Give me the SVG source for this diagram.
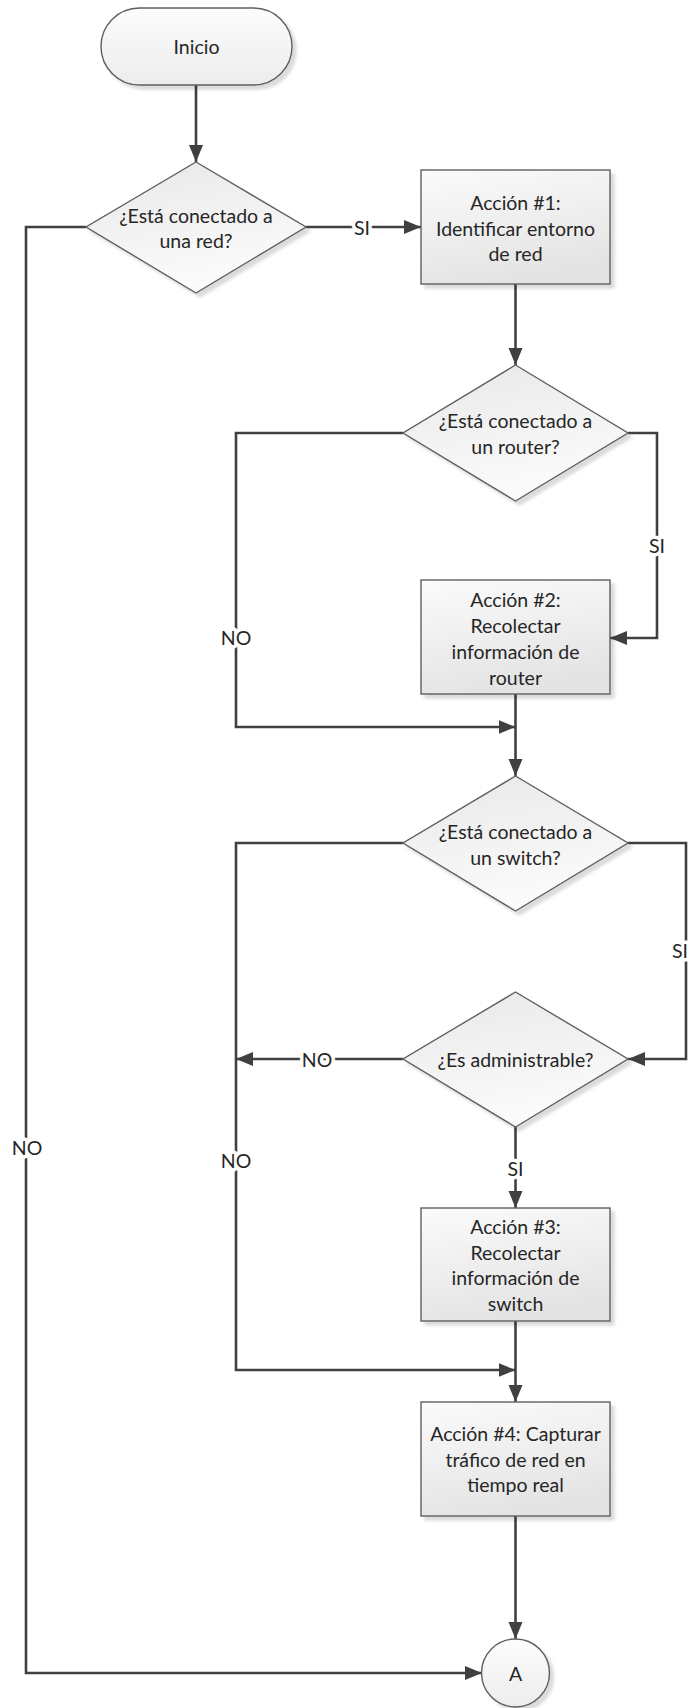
<svg xmlns="http://www.w3.org/2000/svg" width="690" height="1708" viewBox="0 0 690 1708">
  <defs>
    <linearGradient id="gBox" x1="0" y1="0" x2="0.3" y2="1">
      <stop offset="0" stop-color="#fbfbfb"/>
      <stop offset="1" stop-color="#e4e4e4"/>
    </linearGradient>
    <linearGradient id="gDia" x1="0" y1="0" x2="0.3" y2="1">
      <stop offset="0" stop-color="#e8e8e8"/>
      <stop offset="1" stop-color="#fbfbfb"/>
    </linearGradient>
    <linearGradient id="gTerm" x1="0" y1="0" x2="0" y2="1">
      <stop offset="0" stop-color="#fdfdfd"/>
      <stop offset="1" stop-color="#ececec"/>
    </linearGradient>
    <filter id="sh" x="-10%" y="-10%" width="130%" height="130%">
      <feDropShadow dx="4" dy="4" stdDeviation="1.5" flood-color="#000" flood-opacity="0.14"/>
    </filter>
    <marker id="arr" markerUnits="userSpaceOnUse" markerWidth="18" markerHeight="16" refX="17" refY="8" orient="auto">
      <path d="M0,1 L17,8 L0,15 Z" fill="#404040"/>
    </marker>
  </defs>
  <style>
    .shape { stroke: #5f5f5f; stroke-width: 1.4; filter: url(#sh); }
    .box { fill: url(#gBox); }
    .dia { fill: url(#gDia); }
    .term { fill: url(#gTerm); }
    .t { font-family: Lato, "Open Sans", sans-serif; font-size: 19.5px; fill: #262626; text-anchor: middle; dominant-baseline: central; }
    .conn { fill: none; stroke: #404040; stroke-width: 2.6; }
    .lbl { font-family: Lato, "Open Sans", sans-serif; font-size: 19.5px; fill: #262626; text-anchor: middle; dominant-baseline: central; stroke: #ffffff; stroke-width: 7; paint-order: stroke; stroke-linejoin: round; }
  </style>

  <g id="connectors">
    <path class="conn" d="M196,85 V162" marker-end="url(#arr)"/>
    <path class="conn" d="M306,227 H421" marker-end="url(#arr)"/>
    <path class="conn" d="M86,227 H26 V1673 H482" marker-end="url(#arr)"/>
    <path class="conn" d="M515.5,284 V365" marker-end="url(#arr)"/>
    <path class="conn" d="M628,433 H657 V638 H610" marker-end="url(#arr)"/>
    <path class="conn" d="M403,433 H236 V727 H515.5" marker-end="url(#arr)"/>
    <path class="conn" d="M515.5,694 V776" marker-end="url(#arr)"/>
    <path class="conn" d="M628,843 H686 V1059 H628" marker-end="url(#arr)"/>
    <path class="conn" d="M403,1059 H236" marker-end="url(#arr)"/>
    <path class="conn" d="M403,843 H236 V1370 H515.5" marker-end="url(#arr)"/>
    <path class="conn" d="M515.5,1127 V1208" marker-end="url(#arr)"/>
    <path class="conn" d="M515.5,1321 V1402" marker-end="url(#arr)"/>
    <path class="conn" d="M515.5,1516 V1639" marker-end="url(#arr)"/>
    <text class="lbl" x="362" y="227">SI</text>
    <text class="lbl" x="27" y="1147">NO</text>
    <text class="lbl" x="657" y="545">SI</text>
    <text class="lbl" x="236" y="637">NO</text>
    <text class="lbl" x="680" y="950">SI</text>
    <text class="lbl" x="317" y="1059">NO</text>
    <text class="lbl" x="236" y="1160">NO</text>
    <text class="lbl" x="515.5" y="1168">SI</text>
  </g>

  <g id="inicio">
    <rect class="shape term" x="101" y="8" width="191" height="77" rx="38.5" ry="38.5"/>
    <text class="t" x="196.5" y="46.5">Inicio</text>
  </g>

  <g id="dec-red">
    <polygon class="shape dia" points="196,162 306,227 196,293 86,227"/>
    <text class="t" x="196" y="215">¿Está conectado a</text>
    <text class="t" x="196" y="240">una red?</text>
  </g>

  <g id="accion1">
    <rect class="shape box" x="421" y="170" width="189" height="114"/>
    <text class="t" x="515.5" y="202">Acción #1:</text>
    <text class="t" x="515.5" y="228">Identificar entorno</text>
    <text class="t" x="515.5" y="253">de red</text>
  </g>

  <g id="dec-router">
    <polygon class="shape dia" points="515.5,365 628,433 515.5,501 403,433"/>
    <text class="t" x="515.5" y="420">¿Está conectado a</text>
    <text class="t" x="515.5" y="446">un router?</text>
  </g>

  <g id="accion2">
    <rect class="shape box" x="421" y="580" width="189" height="114"/>
    <text class="t" x="515.5" y="599">Acción #2:</text>
    <text class="t" x="515.5" y="625">Recolectar</text>
    <text class="t" x="515.5" y="651">información de</text>
    <text class="t" x="515.5" y="677">router</text>
  </g>

  <g id="dec-switch">
    <polygon class="shape dia" points="515.5,776 628,843 515.5,911 403,843"/>
    <text class="t" x="515.5" y="831">¿Está conectado a</text>
    <text class="t" x="515.5" y="857">un switch?</text>
  </g>

  <g id="dec-admin">
    <polygon class="shape dia" points="515.5,992 628,1059 515.5,1127 403,1059"/>
    <text class="t" x="515.5" y="1059">¿Es administrable?</text>
  </g>

  <g id="accion3">
    <rect class="shape box" x="421" y="1208" width="189" height="113"/>
    <text class="t" x="515.5" y="1226">Acción #3:</text>
    <text class="t" x="515.5" y="1252">Recolectar</text>
    <text class="t" x="515.5" y="1277">información de</text>
    <text class="t" x="515.5" y="1303">switch</text>
  </g>

  <g id="accion4">
    <rect class="shape box" x="421" y="1402" width="189" height="114"/>
    <text class="t" x="515.5" y="1433">Acción #4: Capturar</text>
    <text class="t" x="515.5" y="1459">tráfico de red en</text>
    <text class="t" x="515.5" y="1484">tiempo real</text>
  </g>

  <g id="conector-a">
    <circle class="shape term" cx="515.5" cy="1673" r="34"/>
    <text class="t" x="515.5" y="1673">A</text>
  </g>
</svg>
